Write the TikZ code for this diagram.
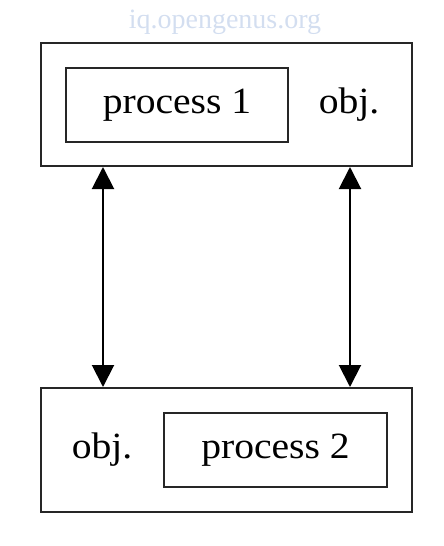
\documentclass[tikz,border=0pt]{standalone}
\usepackage{fontspec}
\setmainfont{Liberation Serif}
\newfontfamily\wide[FakeStretch=1.07]{Liberation Serif}
\usetikzlibrary{arrows.meta}
\definecolor{wm}{HTML}{D3DEF0}
\begin{document}
\begin{tikzpicture}[x=1pt,y=-1pt,
  box/.style={draw=black!85,line width=2pt,inner sep=0pt},
  lbl/.style={font=\wide\fontsize{37}{44}\selectfont},
  conn/.style={line width=2pt,black,{Triangle[length=22pt,width=22pt]}-{Triangle[length=22pt,width=22pt]}}]
\useasboundingbox (0,0) rectangle (444,546);
\node[font=\fontsize{28}{34}\selectfont,text=wm] (wm) at (225,22) {iq.opengenus.org};
\node[box,minimum width=371pt,minimum height=123pt] (top) at (226.5,104.5) {};
\node[box,minimum width=222pt,minimum height=74pt,lbl] (p1) at (177,105) {\raisebox{-2.5pt}{process 1}};
\node[lbl] (o1) at (349,105) {\raisebox{-2.5pt}{obj.}};
\node[box,minimum width=371pt,minimum height=124pt] (bot) at (226.5,450) {};
\node[box,minimum width=223pt,minimum height=74pt,lbl] (p2) at (275.5,450) {\raisebox{-4pt}{process 2}};
\node[lbl] (o2) at (102,450) {\raisebox{-4pt}{obj.}};
\draw[conn] (top.south -| 103,0) -- (bot.north -| 103,0);
\draw[conn] (top.south -| 350,0) -- (bot.north -| 350,0);
\end{tikzpicture}
\end{document}
